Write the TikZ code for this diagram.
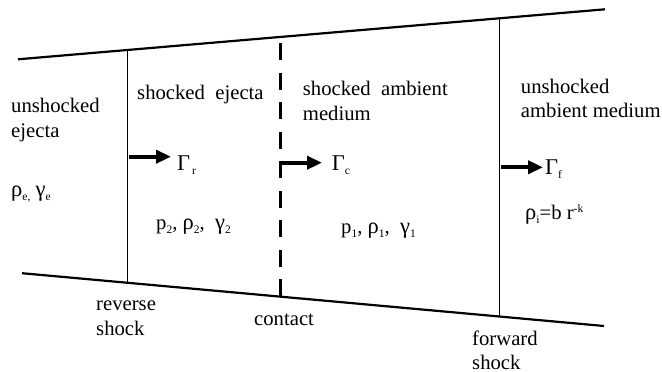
\documentclass[tikz,border=0pt]{standalone}
\usepackage{fontspec}
\setmainfont{Liberation Serif}
\usetikzlibrary{arrows.meta}
\newcommand\lowsub[1]{\raisebox{-4pt}{\fontsize{11.5}{11.5}\selectfont #1}}
\newcommand\highsup[1]{\raisebox{7pt}{\fontsize{11.5}{11.5}\selectfont #1}}
\newcommand\gk[1]{{\fontsize{22.5}{25}\selectfont #1}}
\begin{document}
\begin{tikzpicture}[x=1pt,y=-1pt,
  lbl/.style={anchor=base west, inner sep=0pt, font=\fontsize{20.7}{25}\selectfont},
  edgeline/.style={line width=2.2pt},
  shockline/.style={line width=1.8pt},
  contactline/.style={line width=3.8pt, dash pattern=on 17pt off 12.5pt},
  flow/.style={line width=4pt, -{Triangle[length=15pt,width=13pt]}}]
\useasboundingbox (0,0) rectangle (662,372);
% outer boundaries
\coordinate (tl) at (18,59.3);
\coordinate (tr) at (605,9.3);
\coordinate (bl) at (22,273.2);
\coordinate (br) at (604,326);
\draw[edgeline] (tl) -- (tr);
\draw[edgeline] (bl) -- (br);
% shocks and contact
\coordinate (rt) at (127.5,50);
\coordinate (rb) at (127.5,282.2);
\coordinate (ct) at (280.5,37);
\coordinate (cb) at (280.5,296);
\coordinate (ft) at (499.5,18.3);
\coordinate (fb) at (499.5,316.5);
\draw[shockline] (rt) -- (rb);
\draw[contactline] (cb) -- (ct);
\draw[shockline] (ft) -- (fb);
% velocity arrows
\coordinate (a1s) at (129,156.7);
\coordinate (a1e) at (171,156.7);
\coordinate (a2s) at (282,162.7);
\coordinate (a2e) at (322,162.7);
\coordinate (a3s) at (501,167.3);
\coordinate (a3e) at (543,167.3);
\draw[flow] (a1s) -- (a1e);
\draw[flow] (a2s) -- (a2e);
\draw[flow] (a3s) -- (a3e);
% labels
\node[lbl] (ue1) at (11,112.5) {unshocked};
\node[lbl] (ue2) at (11,137) {ejecta};
\node[lbl] (ue3) at (11,196) {\gk{ρ}\lowsub{e,} \gk{γ}\lowsub{e}};
\node[lbl] (se1) at (137,99) {shocked\ \ ejecta};
\node[lbl] (gr) at (177,170) {\gk{Γ}\lowsub{\,r}};
\node[lbl] (se2) at (156,229) {p\lowsub{2}, \gk{ρ}\lowsub{2},\ \ \gk{γ}\lowsub{2}};
\node[lbl] (sa1) at (302.7,95.5) {shocked\ \ ambient};
\node[lbl] (sa2) at (302.7,120.5) {medium};
\node[lbl] (gc) at (331.7,170.7) {\gk{Γ}\lowsub{c}};
\node[lbl] (sa3) at (341,233) {p\lowsub{1}, \gk{ρ}\lowsub{1},\ \ \gk{γ}\lowsub{1}};
\node[lbl] (ua1) at (520.7,93) {unshocked};
\node[lbl] (ua2) at (520.7,117) {ambient medium};
\node[lbl] (gf) at (545,174) {\gk{Γ}\lowsub{f}};
\node[lbl] (ua3) at (525,219) {\gk{ρ}\lowsub{i}=b r\highsup{-k}};
\node[lbl] (rs1) at (96,310) {reverse};
\node[lbl] (rs2) at (96,335) {shock};
\node[lbl] (cd) at (254,325) {contact};
\node[lbl] (fs1) at (472,345) {forward};
\node[lbl] (fs2) at (472,369) {shock};
\end{tikzpicture}
\end{document}
